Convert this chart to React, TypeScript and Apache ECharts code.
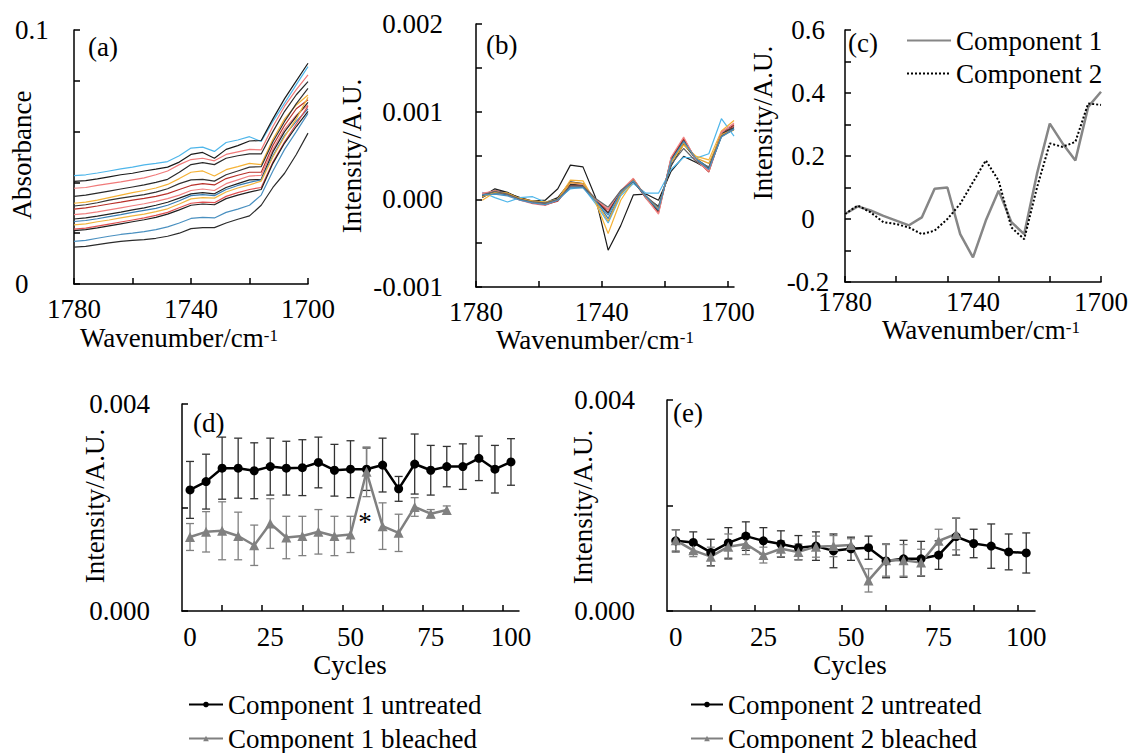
import React, { useEffect, useRef } from "react";
import * as echarts from "echarts";

const FONT = "Liberation Serif";

// Panel (a)/(c) wavenumbers
const WN = [1780, 1776, 1772, 1768, 1764, 1760, 1756, 1752, 1748, 1744, 1740, 1736, 1732, 1728, 1724, 1720, 1716, 1712, 1708, 1704, 1700];
// Panel (b) wavenumbers
const WN_B = [1778, 1774, 1770, 1766, 1762, 1758, 1754, 1750, 1746, 1742, 1738, 1734, 1730, 1726, 1722, 1718, 1714, 1710, 1706, 1702, 1698];

const WN_TICKS_AB = [1780, 1760, 1740, 1720, 1700];
const WN_TICKS_C = [1780, 1764, 1748, 1732, 1716, 1700];
const WN_LABELS = [1780, 1740, 1700];

// (a) absorbance spectra
const A1 = [0.0427, 0.0430, 0.0437, 0.0445, 0.0453, 0.0460, 0.0469, 0.0475, 0.0482, 0.0505, 0.0535, 0.0539, 0.0522, 0.0557, 0.0567, 0.0580, 0.0561, 0.0640, 0.0712, 0.0785, 0.0856];
const A2 = [0.0404, 0.0407, 0.0414, 0.0422, 0.0430, 0.0436, 0.0445, 0.0452, 0.0460, 0.0480, 0.0510, 0.0518, 0.0495, 0.0530, 0.0545, 0.0563, 0.0565, 0.0650, 0.0730, 0.0800, 0.0869];
const A3 = [0.0377, 0.0380, 0.0388, 0.0395, 0.0402, 0.0410, 0.0418, 0.0430, 0.0445, 0.0470, 0.0490, 0.0495, 0.0485, 0.0510, 0.0520, 0.0530, 0.0528, 0.0620, 0.0700, 0.0765, 0.0823];
const A4 = [0.0345, 0.0350, 0.0358, 0.0366, 0.0374, 0.0382, 0.0390, 0.0400, 0.0412, 0.0440, 0.0470, 0.0478, 0.0470, 0.0495, 0.0505, 0.0512, 0.0512, 0.0600, 0.0680, 0.0745, 0.0797];
const A5 = [0.0318, 0.0322, 0.0330, 0.0340, 0.0350, 0.0360, 0.0368, 0.0378, 0.0392, 0.0415, 0.0440, 0.0445, 0.0425, 0.0450, 0.0462, 0.0475, 0.0470, 0.0570, 0.0650, 0.0705, 0.0744];
const A6 = [0.0307, 0.0312, 0.0320, 0.0330, 0.0338, 0.0345, 0.0352, 0.0362, 0.0375, 0.0395, 0.0410, 0.0412, 0.0405, 0.0430, 0.0445, 0.0460, 0.0462, 0.0560, 0.0640, 0.0710, 0.0770];
const A7 = [0.0295, 0.0300, 0.0307, 0.0315, 0.0322, 0.0330, 0.0337, 0.0345, 0.0356, 0.0372, 0.0388, 0.0395, 0.0390, 0.0415, 0.0428, 0.0440, 0.0440, 0.0545, 0.0625, 0.0690, 0.0725];
const A8 = [0.0273, 0.0277, 0.0284, 0.0292, 0.0300, 0.0308, 0.0316, 0.0325, 0.0336, 0.0350, 0.0368, 0.0374, 0.0368, 0.0395, 0.0410, 0.0425, 0.0428, 0.0530, 0.0610, 0.0665, 0.0705];
const A9 = [0.0256, 0.0260, 0.0267, 0.0275, 0.0283, 0.0292, 0.0300, 0.0310, 0.0322, 0.0338, 0.0355, 0.0360, 0.0355, 0.0380, 0.0395, 0.0410, 0.0412, 0.0520, 0.0600, 0.0660, 0.0715];
const A10 = [0.0246, 0.0250, 0.0257, 0.0265, 0.0273, 0.0282, 0.0290, 0.0298, 0.0310, 0.0328, 0.0348, 0.0352, 0.0348, 0.0372, 0.0388, 0.0400, 0.0410, 0.0505, 0.0585, 0.0640, 0.0690];
const A11 = [0.0233, 0.0237, 0.0245, 0.0252, 0.0260, 0.0268, 0.0275, 0.0285, 0.0296, 0.0315, 0.0335, 0.0340, 0.0338, 0.0362, 0.0378, 0.0390, 0.0405, 0.0500, 0.0580, 0.0650, 0.0735];
const A12 = [0.0216, 0.0220, 0.0228, 0.0236, 0.0244, 0.0252, 0.0260, 0.0270, 0.0282, 0.0300, 0.0318, 0.0322, 0.0320, 0.0345, 0.0360, 0.0372, 0.0380, 0.0480, 0.0560, 0.0630, 0.0700];
const A13 = [0.0210, 0.0214, 0.0221, 0.0229, 0.0237, 0.0245, 0.0253, 0.0262, 0.0275, 0.0292, 0.0310, 0.0315, 0.0312, 0.0336, 0.0350, 0.0362, 0.0372, 0.0475, 0.0555, 0.0620, 0.0680];
const A14 = [0.0168, 0.0172, 0.0180, 0.0188, 0.0195, 0.0200, 0.0206, 0.0214, 0.0225, 0.0240, 0.0258, 0.0262, 0.0260, 0.0282, 0.0295, 0.0310, 0.0350, 0.0445, 0.0530, 0.0600, 0.0672];
const A15 = [0.0145, 0.0148, 0.0155, 0.0162, 0.0168, 0.0172, 0.0175, 0.0180, 0.0188, 0.0200, 0.0218, 0.0222, 0.0222, 0.0240, 0.0255, 0.0268, 0.0310, 0.0380, 0.0436, 0.0510, 0.0594];
const A_SERIES = [A1, A2, A3, A4, A5, A6, A7, A8, A9, A10, A11, A12, A13, A14, A15];
const A_COLORS = ["#4fb6ea", "#1a1a1a", "#f07a7a", "#2a2a2a", "#f5b236", "#333333", "#b8302a", "#f08080", "#222222", "#3a7fb4", "#f2b540", "#e05050", "#1f1f1f", "#4a90c0", "#2b2b2b"];

// (b) difference spectra
const B1 = [0.00003, 0.00012, 0.00008, 0.00001, -0.00003, -0.00004, 0.00002, 0.00020, 0.00018, -0.00002, -0.00012, 0.00006, 0.00023, 0.00002, -0.00008, 0.00038, 0.00063, 0.00046, 0.00036, 0.00076, 0.00085];
const B2 = [0.00002, 0.00010, 0.00007, 0.00002, -0.00002, -0.00001, 0.00012, 0.00039, 0.00037, 0.00002, -0.00058, -0.00030, 0.00005, 0.00006, -0.00001, 0.00032, 0.00049, 0.00042, 0.00034, 0.00072, 0.00080];
const B3 = [0.00008, 0.00002, -0.00003, 0.00002, 0.00003, -0.00003, 0.00000, 0.00012, 0.00014, -0.00005, -0.00027, 0.00004, 0.00018, 0.00007, 0.00007, 0.00034, 0.00048, 0.00047, 0.00052, 0.00092, 0.00072];
const B4 = [-0.00001, 0.00008, 0.00007, 0.00000, -0.00002, -0.00003, 0.00000, 0.00022, 0.00021, -0.00003, -0.00039, -0.00001, 0.00021, 0.00003, -0.00012, 0.00042, 0.00062, 0.00049, 0.00045, 0.00078, 0.00090];
const B5 = [0.00007, 0.00009, 0.00005, -0.00001, -0.00005, -0.00007, -0.00001, 0.00017, 0.00016, -0.00001, -0.00012, 0.00008, 0.00022, 0.00001, -0.00016, 0.00046, 0.00070, 0.00044, 0.00033, 0.00077, 0.00086];
const B6 = [0.00006, 0.00008, 0.00006, 0.00000, -0.00004, -0.00006, -0.00002, 0.00016, 0.00015, 0.00000, -0.00015, 0.00009, 0.00023, 0.00003, -0.00015, 0.00047, 0.00069, 0.00045, 0.00031, 0.00074, 0.00084];
const B7 = [0.00004, 0.00007, 0.00005, 0.00000, -0.00003, -0.00005, 0.00000, 0.00014, 0.00014, 0.00000, -0.00022, 0.00007, 0.00020, 0.00004, -0.00013, 0.00044, 0.00066, 0.00046, 0.00036, 0.00073, 0.00081];
const B8 = [0.00004, 0.00009, 0.00006, 0.00000, -0.00004, -0.00005, -0.00001, 0.00017, 0.00016, -0.00001, -0.00016, 0.00009, 0.00021, 0.00002, -0.00013, 0.00045, 0.00067, 0.00045, 0.00035, 0.00075, 0.00082];
const B9 = [0.00006, 0.00010, 0.00006, -0.00001, -0.00004, -0.00006, -0.00001, 0.00019, 0.00017, 0.00000, -0.00011, 0.00010, 0.00024, 0.00002, -0.00017, 0.00048, 0.00071, 0.00044, 0.00032, 0.00076, 0.00087];
const B10 = [0.00003, 0.00008, 0.00007, 0.00001, -0.00002, -0.00004, 0.00000, 0.00019, 0.00018, -0.00002, -0.00025, 0.00006, 0.00022, 0.00003, -0.00011, 0.00043, 0.00064, 0.00047, 0.00041, 0.00074, 0.00079];
const B11 = [0.00005, 0.00009, 0.00006, 0.00000, -0.00003, -0.00004, 0.00000, 0.00015, 0.00015, 0.00001, -0.00009, 0.00010, 0.00021, 0.00004, -0.00009, 0.00040, 0.00058, 0.00043, 0.00037, 0.00072, 0.00080];
const B12 = [0.00005, 0.00006, 0.00004, -0.00001, -0.00004, -0.00006, -0.00001, 0.00013, 0.00013, -0.00002, -0.00018, 0.00008, 0.00021, 0.00003, -0.00012, 0.00044, 0.00066, 0.00046, 0.00034, 0.00071, 0.00080];
const B_SERIES = [B1, B2, B3, B4, B5, B6, B7, B8, B9, B10, B11, B12];
const B_COLORS = ["#222222", "#1a1a1a", "#4fb6ea", "#f5b236", "#f07a7a", "#b8302a", "#3a7fb4", "#333333", "#f08888", "#e0a030", "#666666", "#4a90c0"];

// (c) component spectra
const COMP1 = [0.016, 0.040, 0.027, 0.010, -0.005, -0.020, 0.005, 0.096, 0.100, -0.048, -0.122, -0.005, 0.090, -0.010, -0.048, 0.144, 0.303, 0.240, 0.186, 0.356, 0.404];
const COMP2 = [0.016, 0.043, 0.021, -0.010, -0.016, -0.027, -0.048, -0.037, 0.000, 0.048, 0.117, 0.186, 0.122, -0.027, -0.064, 0.100, 0.240, 0.229, 0.245, 0.367, 0.362];

// (d)/(e) cycles
const CYCLES = [0, 5, 10, 15, 20, 25, 30, 35, 40, 45, 50, 55, 60, 65, 70, 75, 80, 85, 90, 95, 100];
const CYCLES_BLEACHED = [0, 5, 10, 15, 20, 25, 30, 35, 40, 45, 50, 55, 60, 65, 70, 75, 80];
const CYCLE_TICKS = [10, 22.5, 35, 47.5, 60, 72.5, 85, 97.5];
const CYCLE_LABELS = [0, 25, 50, 75, 100];

const D_UNTREATED = [0.00234, 0.00250, 0.00276, 0.00276, 0.00271, 0.00279, 0.00276, 0.00277, 0.00287, 0.00272, 0.00274, 0.00274, 0.00282, 0.00236, 0.00284, 0.00272, 0.00279, 0.00279, 0.00295, 0.00274, 0.00288];
const D_UNTREATED_ERR = [0.00055, 0.00053, 0.00060, 0.00058, 0.00054, 0.00055, 0.00052, 0.00054, 0.00049, 0.00050, 0.00055, 0.00041, 0.00052, 0.00024, 0.00058, 0.00048, 0.00039, 0.00044, 0.00043, 0.00046, 0.00045];
const D_BLEACHED = [0.00143, 0.00153, 0.00155, 0.00145, 0.00127, 0.00169, 0.00142, 0.00145, 0.00153, 0.00145, 0.00148, 0.00269, 0.00164, 0.00151, 0.00201, 0.00188, 0.00195];
const D_BLEACHED_ERR = [0.00026, 0.00039, 0.00056, 0.00046, 0.00039, 0.00048, 0.00041, 0.00038, 0.00043, 0.00038, 0.00035, 0.00048, 0.00045, 0.00036, 0.00018, 0.00008, 0.00008];

const E_UNTREATED = [0.00133, 0.00130, 0.00111, 0.00129, 0.00142, 0.00133, 0.00127, 0.00120, 0.00123, 0.00114, 0.00118, 0.00120, 0.00095, 0.00099, 0.00099, 0.00106, 0.00141, 0.00128, 0.00123, 0.00112, 0.00110];
const E_UNTREATED_ERR = [0.00021, 0.00020, 0.00025, 0.00029, 0.00027, 0.00025, 0.00025, 0.00023, 0.00027, 0.00032, 0.00022, 0.00022, 0.00032, 0.00035, 0.00033, 0.00027, 0.00035, 0.00027, 0.00042, 0.00034, 0.00038];
const E_BLEACHED = [0.00134, 0.00115, 0.00103, 0.00122, 0.00127, 0.00106, 0.00118, 0.00112, 0.00122, 0.00123, 0.00125, 0.00058, 0.00096, 0.00096, 0.00092, 0.00133, 0.00146];
const E_BLEACHED_ERR = [0.00020, 0.00012, 0.00018, 0.00024, 0.00020, 0.00015, 0.00015, 0.00015, 0.00020, 0.00020, 0.00012, 0.00022, 0.00030, 0.00030, 0.00025, 0.00022, 0.00030];

const FS = 27;

function axisBase(extra: any) {
  return {
    axisLine: { onZero: false, lineStyle: { color: "#000", width: 1.5 } },
    splitLine: { show: false },
    ...extra,
    axisTick: { inside: true, length: 6, lineStyle: { color: "#000", width: 1.5 }, ...(extra.axisTick || {}) },
    axisLabel: { color: "#000", fontFamily: FONT, fontSize: FS, lineHeight: 22, ...(extra.axisLabel || {}) },
  };
}

function errorBars(name: string, xs: number[], ys: number[], es: number[], idx: number, color: string) {
  return {
    type: "custom",
    name,
    xAxisIndex: idx,
    yAxisIndex: idx,
    z: 1,
    silent: true,
    encode: { x: 0, y: [1, 2] },
    data: xs.map((x, i) => [x, ys[i] - es[i], ys[i] + es[i]]),
    renderItem: (params: any, api: any) => {
      const x = api.value(0);
      const p1 = api.coord([x, api.value(1)]);
      const p2 = api.coord([x, api.value(2)]);
      const w = 4;
      const style = { stroke: color, lineWidth: 1.3 };
      return {
        type: "group",
        children: [
          { type: "line", shape: { x1: p1[0], y1: p1[1], x2: p2[0], y2: p2[1] }, style },
          { type: "line", shape: { x1: p1[0] - w, y1: p1[1], x2: p1[0] + w, y2: p1[1] }, style },
          { type: "line", shape: { x1: p2[0] - w, y1: p2[1], x2: p2[0] + w, y2: p2[1] }, style },
        ],
      };
    },
  };
}

function txt(text: string, x: number, y: number, extra: any = {}) {
  return {
    type: "text",
    x,
    y,
    rotation: extra.rotation || 0,
    style: {
      text,
      fontFamily: FONT,
      fontSize: FS,
      fill: "#000",
      align: extra.align || "center",
      verticalAlign: "middle",
    },
  };
}

function wnTitle(x: number, y: number) {
  return {
    type: "text",
    x,
    y,
    style: {
      text: "{a|Wavenumber/cm}{s|-1}",
      align: "center",
      verticalAlign: "middle",
      rich: {
        a: { fontFamily: FONT, fontSize: FS, fill: "#000", lineHeight: 22 },
        s: { fontFamily: FONT, fontSize: 17, fill: "#000", verticalAlign: "top", lineHeight: 22 },
      },
    },
  };
}

const plain = (v: number) => String(v);

export default function App() {
  const ref = useRef<HTMLDivElement>(null);
  useEffect(() => {
    if (!ref.current) return;
    const chart = echarts.init(ref.current, undefined, { renderer: "svg" });

    const lineSeries: any[] = [];
    A_SERIES.forEach((arr, k) => {
      lineSeries.push({
        type: "line", name: "a" + k, xAxisIndex: 0, yAxisIndex: 0, symbol: "none", silent: true,
        lineStyle: { width: 1.2, color: A_COLORS[k] }, itemStyle: { color: A_COLORS[k] },
        data: WN.map((x, i) => [x, arr[i]]),
      });
    });
    B_SERIES.forEach((arr, k) => {
      lineSeries.push({
        type: "line", name: "b" + k, xAxisIndex: 1, yAxisIndex: 1, symbol: "none", silent: true,
        lineStyle: { width: 1.2, color: B_COLORS[k] }, itemStyle: { color: B_COLORS[k] },
        data: WN_B.map((x, i) => [x, arr[i]]),
      });
    });
    lineSeries.push({
      type: "line", name: "Component 1", xAxisIndex: 2, yAxisIndex: 2, symbol: "none",
      lineStyle: { width: 2.5, color: "#868686" }, itemStyle: { color: "#868686" },
      data: WN.map((x, i) => [x, COMP1[i]]),
    });
    lineSeries.push({
      type: "line", name: "Component 2", xAxisIndex: 2, yAxisIndex: 2, symbol: "none",
      lineStyle: { width: 2, color: "#000", type: "dotted" }, itemStyle: { color: "#000" },
      data: WN.map((x, i) => [x, COMP2[i]]),
    });

    const ebs = [
      errorBars("eb1u", CYCLES, D_UNTREATED, D_UNTREATED_ERR, 3, "#333"),
      errorBars("eb1b", CYCLES_BLEACHED, D_BLEACHED, D_BLEACHED_ERR, 3, "#808080"),
      errorBars("eb2u", CYCLES, E_UNTREATED, E_UNTREATED_ERR, 4, "#333"),
      errorBars("eb2b", CYCLES_BLEACHED, E_BLEACHED, E_BLEACHED_ERR, 4, "#808080"),
    ];
    const mk = (name: string, xs: number[], ys: number[], idx: number, color: string, symbol: string, size: number) => ({
      type: "line", name, xAxisIndex: idx, yAxisIndex: idx, symbol, symbolSize: size, z: 3,
      lineStyle: { width: 2.5, color }, itemStyle: { color },
      data: xs.map((x, i) => [x, ys[i]]),
    });
    const cycSeries = [
      mk("Component 1 untreated", CYCLES, D_UNTREATED, 3, "#000", "circle", 9),
      mk("Component 1 bleached", CYCLES_BLEACHED, D_BLEACHED, 3, "#808080", "triangle", 10),
      mk("Component 2 untreated", CYCLES, E_UNTREATED, 4, "#000", "circle", 9),
      mk("Component 2 bleached", CYCLES_BLEACHED, E_BLEACHED, 4, "#808080", "triangle", 10),
    ];

    const legendText = { fontFamily: FONT, fontSize: FS, color: "#000", lineHeight: 27 };

    const option: any = {
      animation: false,
      backgroundColor: "#fff",
      grid: [
        { left: 74, top: 30, width: 234, height: 254 },
        { left: 476, top: 24, width: 258, height: 263 },
        { left: 845, top: 30, width: 258, height: 252 },
        { left: 182, top: 404, width: 337, height: 207 },
        { left: 667, top: 400, width: 368, height: 211 },
      ],
      xAxis: [
        axisBase({ type: "value", gridIndex: 0, min: 1700, max: 1780, inverse: true,
          axisTick: { customValues: WN_TICKS_AB }, axisLabel: { customValues: WN_LABELS, margin: 14, formatter: plain } }),
        axisBase({ type: "value", gridIndex: 1, min: 1698, max: 1780, inverse: true,
          axisTick: { customValues: WN_TICKS_AB }, axisLabel: { customValues: WN_LABELS, margin: 14, formatter: plain } }),
        axisBase({ type: "value", gridIndex: 2, min: 1700, max: 1780, inverse: true,
          axisTick: { customValues: WN_TICKS_C }, axisLabel: { customValues: WN_LABELS, margin: 9, formatter: plain } }),
        axisBase({ type: "value", gridIndex: 3, min: -2.5, max: 102.5,
          axisTick: { customValues: CYCLE_TICKS }, axisLabel: { customValues: CYCLE_LABELS, margin: 15, formatter: plain } }),
        axisBase({ type: "value", gridIndex: 4, min: -2.5, max: 102.5,
          axisTick: { customValues: CYCLE_TICKS }, axisLabel: { customValues: CYCLE_LABELS, margin: 15, formatter: plain } }),
      ],
      yAxis: [
        axisBase({ type: "value", gridIndex: 0, min: 0, max: 0.1,
          axisTick: { customValues: [0, 0.02, 0.04, 0.06, 0.08, 0.1] },
          axisLabel: { customValues: [0, 0.1], align: "left", margin: 59, formatter: (v: number) => (v === 0 ? "0" : String(v)) } }),
        axisBase({ type: "value", gridIndex: 1, min: -0.001, max: 0.002,
          axisTick: { customValues: [-0.001, -0.0005, 0, 0.0005, 0.001, 0.0015, 0.002] },
          axisLabel: { customValues: [-0.001, 0, 0.001, 0.002], margin: 33, formatter: (v: number) => v.toFixed(3) } }),
        axisBase({ type: "value", gridIndex: 2, min: -0.2, max: 0.6,
          axisTick: { customValues: [-0.2, -0.1, 0, 0.1, 0.2, 0.3, 0.4, 0.5, 0.6] },
          axisLabel: { customValues: [-0.2, 0, 0.2, 0.4, 0.6], align: "center", margin: 37, formatter: (v: number) => (v === 0 ? "0" : v.toFixed(1)) } }),
        axisBase({ type: "value", gridIndex: 3, min: 0, max: 0.004,
          axisTick: { customValues: [0, 0.002, 0.004] },
          axisLabel: { customValues: [0, 0.004], margin: 32, formatter: (v: number) => v.toFixed(3) } }),
        axisBase({ type: "value", gridIndex: 4, min: 0, max: 0.004,
          axisTick: { customValues: [0, 0.002, 0.004] },
          axisLabel: { customValues: [0, 0.004], margin: 32, formatter: (v: number) => v.toFixed(3) } }),
      ],
      legend: [
        { data: ["Component 1", "Component 2"], orient: "vertical", left: 906, top: 27, padding: 0,
          itemWidth: 44, itemHeight: 12, itemGap: 6, textStyle: legendText, selectedMode: false,
          itemStyle: { opacity: 0 } },
        { data: ["Component 1 untreated", "Component 1 bleached"], orient: "vertical", left: 188, top: 691, height: 120, padding: 0,
          itemWidth: 34, itemHeight: 7, itemGap: 7, textStyle: legendText, selectedMode: false },
        { data: ["Component 2 untreated", "Component 2 bleached"], orient: "vertical", left: 690, top: 691, height: 120, padding: 0,
          itemWidth: 32, itemHeight: 7, itemGap: 7, textStyle: legendText, selectedMode: false },
      ],
      graphic: [
        txt("(a)", 88, 47, { align: "left" }),
        txt("(b)", 486, 45, { align: "left" }),
        txt("(c)", 848, 43, { align: "left" }),
        txt("(d)", 193, 423, { align: "left" }),
        txt("(e)", 673, 413, { align: "left" }),
        txt("*", 365, 522),
        txt("Absorbance", 22, 155, { rotation: Math.PI / 2 }),
        txt("Intensity/A.U.", 352, 156, { rotation: Math.PI / 2 }),
        txt("Intensity/A.U.", 763, 123, { rotation: Math.PI / 2 }),
        txt("Intensity/A.U.", 95, 506, { rotation: Math.PI / 2 }),
        txt("Intensity/A.U.", 583, 507, { rotation: Math.PI / 2 }),
        wnTitle(179, 338),
        wnTitle(595, 340),
        wnTitle(981, 330),
        txt("Cycles", 350, 665),
        txt("Cycles", 850, 665),
      ],
      series: [...lineSeries, ...ebs, ...cycSeries],
    };
    chart.setOption(option);
    return () => chart.dispose();
  }, []);
  return (
    <div
      ref={ref}
      style={{ position: "absolute", left: 0, top: 0, width: 1131, height: 753, background: "#fff" }}
    />
  );
}
